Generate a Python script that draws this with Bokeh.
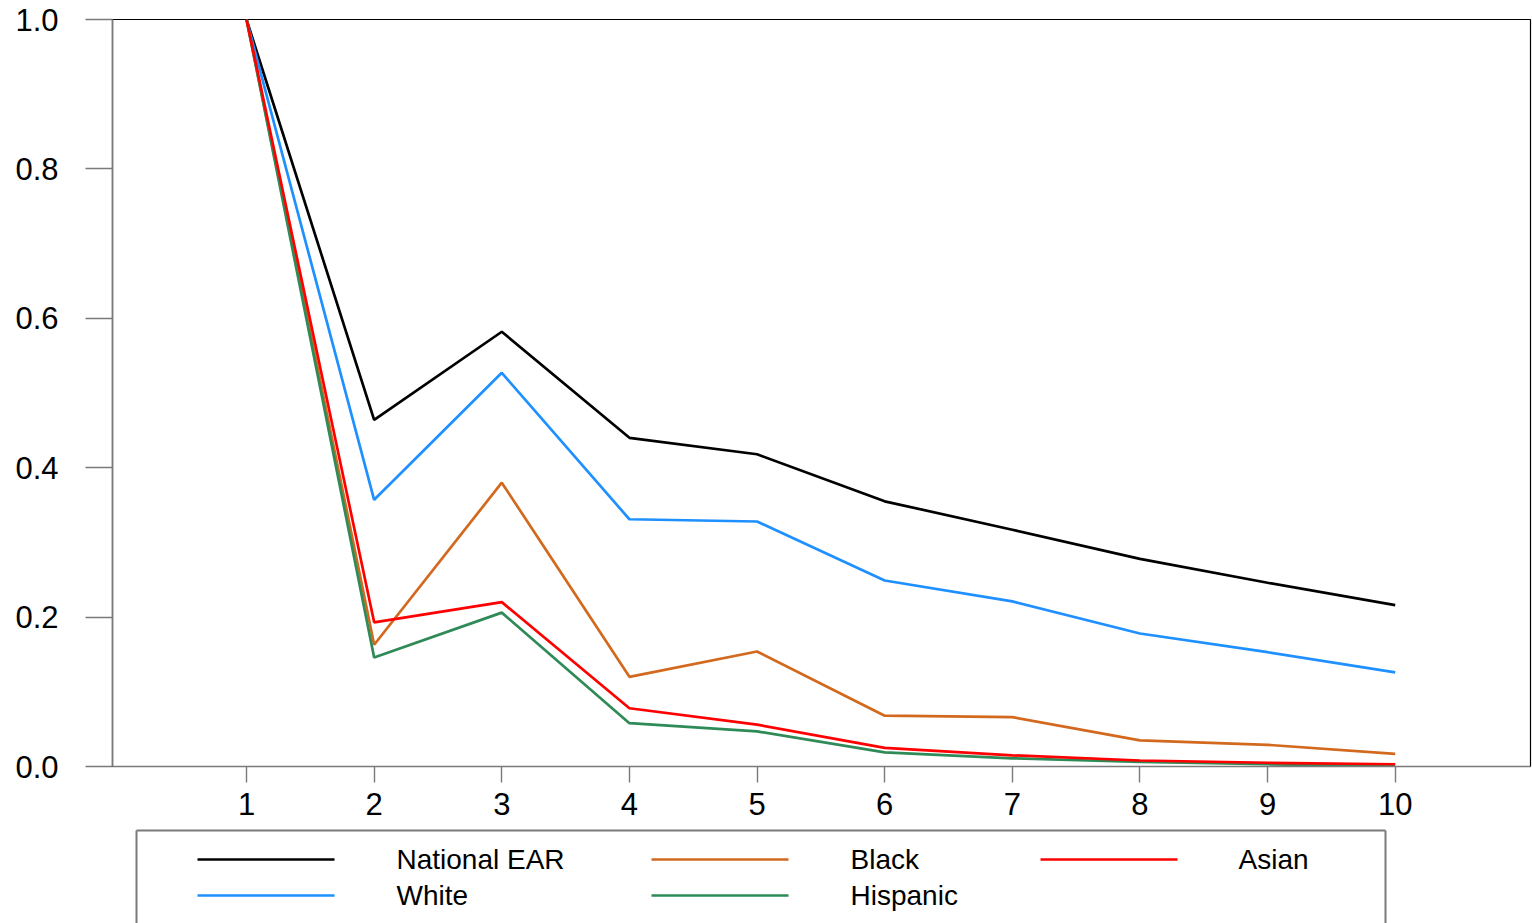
from bokeh.plotting import figure
from bokeh.layouts import column
from bokeh.models import Range1d, FixedTicker
from bokeh.core.properties import value
from bokeh.embed import file_html
from bokeh.resources import INLINE

# ---- data ----
steps = [1, 2, 3, 4, 5, 6, 7, 8, 9, 10]
national = [1.0, 0.464, 0.582, 0.440, 0.418, 0.355, 0.317, 0.278, 0.246, 0.216]
white = [1.0, 0.357, 0.527, 0.331, 0.328, 0.249, 0.221, 0.178, 0.153, 0.126]
black = [1.0, 0.163, 0.380, 0.120, 0.154, 0.068, 0.066, 0.035, 0.029, 0.017]
hispanic = [1.0, 0.146, 0.206, 0.058, 0.047, 0.019, 0.011, 0.006, 0.003, 0.001]
asian = [1.0, 0.193, 0.220, 0.078, 0.056, 0.025, 0.015, 0.008, 0.005, 0.003]
y_ticks = [0.0, 0.2, 0.4, 0.6, 0.8, 1.0]
y_tick_labels = ["0.0", "0.2", "0.4", "0.6", "0.8", "1.0"]
x_ticks = [1, 2, 3, 4, 5, 6, 7, 8, 9, 10]

series_names = ["National EAR", "White", "Black", "Hispanic", "Asian"]
series_values = [national, white, black, hispanic, asian]
series_colors = ["#000000", "#1E90FF", "#D2691E", "#2E8B57", "#FF0000"]

FONT = "Liberation Sans"
AXIS_GREY = "#7a7a7a"

# ---- main chart ----
p = figure(width=1532, height=826, output_backend="svg", toolbar_location=None,
           x_range=Range1d(-0.05, 11.06), y_range=Range1d(0, 1.0),
           min_border_left=112, min_border_right=2, min_border_top=19,
           min_border_bottom=60)
p.xgrid.visible = False
p.ygrid.visible = False
p.outline_line_color = "black"
p.outline_line_width = 1.2
p.background_fill_color = "white"
p.border_fill_color = "white"

for name, vals, col in zip(series_names, series_values, series_colors):
    p.line(steps, vals, line_color=col, line_width=2.7)

p.yaxis.ticker = FixedTicker(ticks=y_ticks)
p.yaxis.major_label_overrides = {t: l for t, l in zip(y_ticks, y_tick_labels)}
p.xaxis.ticker = FixedTicker(ticks=x_ticks)
for ax in (p.xaxis[0], p.yaxis[0]):
    ax.minor_tick_line_color = None
    ax.major_tick_in = 0
    ax.axis_line_color = AXIS_GREY
    ax.axis_line_width = 1.6
    ax.major_tick_line_color = AXIS_GREY
    ax.major_tick_line_width = 1.4
    ax.major_label_text_font = FONT
    ax.major_label_text_font_size = "31px"
    ax.major_label_text_color = "black"
p.yaxis.major_tick_out = 27
p.yaxis.major_label_standoff = 27
p.xaxis.major_tick_out = 16
p.xaxis.major_label_standoff = 10

# ---- legend panel (coordinates in page pixels) ----
LH = 97
lg = figure(width=1532, height=LH, output_backend="svg", toolbar_location=None,
            x_range=Range1d(112, 1530), y_range=Range1d(826 + LH, 826),
            x_axis_type=None, y_axis_type=None,
            min_border_left=112, min_border_right=2, min_border_top=0,
            min_border_bottom=0)
lg.xgrid.visible = False
lg.ygrid.visible = False
lg.outline_line_color = None

box_left, box_right, box_top, box_bottom = 136, 1385, 830, 930
lg.segment(x0=[box_left, box_left, box_right], y0=[box_top, box_top, box_top],
           x1=[box_right, box_left, box_right], y1=[box_top, box_bottom, box_bottom],
           line_color=AXIS_GREY, line_width=2)

col_glyph_x = [197, 651, 1040]
col_text_x = [396, 850, 1238]
row_y = [859, 895]
glyph_len = 137
# column-major order: National EAR, White | Black, Hispanic | Asian
for k, idx in enumerate(range(len(series_names))):
    c, r = divmod(k, 2)
    gx = col_glyph_x[c]
    gy = row_y[r]
    lg.segment(x0=[gx], y0=[gy], x1=[gx + glyph_len], y1=[gy],
               line_color=series_colors[idx], line_width=2.7)
    lg.text(x=[col_text_x[c]], y=[gy], text=[series_names[idx]],
            text_font=value(FONT), text_font_size="28px",
            text_baseline="middle", text_align="left", text_color="black")

layout = column(p, lg, spacing=0)
open("out.html", "w").write(file_html(layout, INLINE))
